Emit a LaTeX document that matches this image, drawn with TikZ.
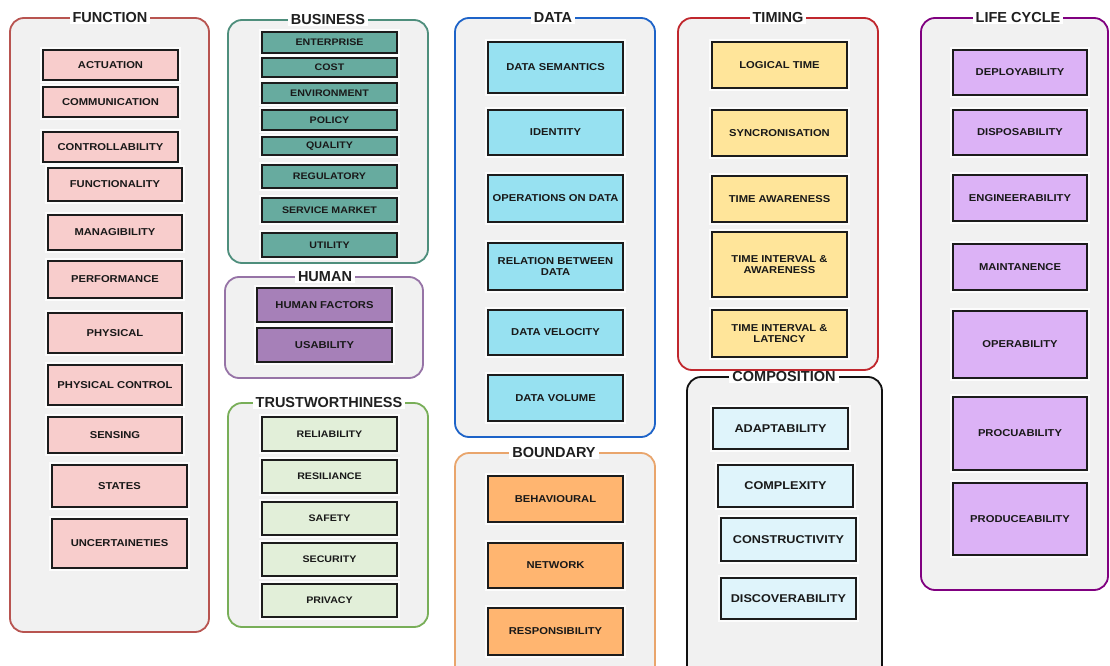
\documentclass[tikz,border=0pt]{standalone}
\usepackage{fontspec}
\setmainfont{Liberation Sans}
\newfontfamily\itemfont{Liberation Sans}[FakeStretch=1.12]
\definecolor{grpfill}{HTML}{F1F1F1}
\definecolor{itemline}{HTML}{1C1C1C}
\definecolor{fucol}{HTML}{F8CDCC}\definecolor{fuline}{HTML}{B85450}
\definecolor{bucol}{HTML}{67AB9F}\definecolor{buline}{HTML}{4E8E7C}
\definecolor{hucol}{HTML}{A680B8}\definecolor{huline}{HTML}{9673A6}
\definecolor{trcol}{HTML}{E2EFD9}\definecolor{trline}{HTML}{78AE58}
\definecolor{dacol}{HTML}{97E1F1}\definecolor{daline}{HTML}{1D63C8}
\definecolor{bocol}{HTML}{FFB570}\definecolor{boline}{HTML}{E9A56C}
\definecolor{ticol}{HTML}{FFE59A}\definecolor{tiline}{HTML}{C0272D}
\definecolor{cocol}{HTML}{DFF4FB}\definecolor{coline}{HTML}{111111}
\definecolor{licol}{HTML}{DCB2F6}\definecolor{liline}{HTML}{800080}
\newcommand\itm[7]{\node[item,#6,minimum width={(#4-#2)*1pt},minimum height={(#5-#3)*1pt}] (#1) at ({(#2+#4)/2},{(#3+#5)/2}) {#7};}
\newcommand\grp[8]{\draw[grpbox,draw=#6] (#2,#3) rectangle (#4,#5);
  \node[grptitle] (#1) at (#8,#3) {#7};}
\begin{document}
\begin{tikzpicture}[x=1pt,y=-1pt,
  grpbox/.style={fill=grpfill, line width=1.8pt, rounded corners=14pt},
  grptitle/.style={fill=white, inner xsep=3pt, inner ysep=1pt, font=\bfseries\fontsize{14.5}{16}\selectfont, text=black!88},
  item/.style={draw=itemline, line width=1.7pt, align=center, inner sep=1pt, text=black!90,
    font=\itemfont\bfseries\fontsize{10}{11.5}\selectfont,
    preaction={draw=white, line width=6pt, draw opacity=0.85}},
  fu/.style={fill=fucol}, bu/.style={fill=bucol, font=\itemfont\bfseries\fontsize{9.5}{11}\selectfont},
  hu/.style={fill=hucol}, tr/.style={fill=trcol, font=\itemfont\bfseries\fontsize{9.5}{11}\selectfont},
  da/.style={fill=dacol}, bo/.style={fill=bocol}, ti/.style={fill=ticol},
  co/.style={fill=cocol, font=\itemfont\bfseries\fontsize{11.3}{13}\selectfont}, li/.style={fill=licol}]
\useasboundingbox (0,0) rectangle (1110,666);
\clip (0,0) rectangle (1110,666);
\fill[white] (0,0) rectangle (1110,666);
% containers
\grp{gfu}{10}{18}{209}{632}{fuline}{FUNCTION}{110}
\grp{gbu}{228}{20}{428}{263}{buline}{BUSINESS}{328}
\grp{ghu}{225}{277}{423}{378}{huline}{HUMAN}{325}
\grp{gtr}{228}{403}{428}{627}{trline}{TRUSTWORTHINESS}{329}
\grp{gda}{455}{18}{655}{437}{daline}{DATA}{553}
\grp{gbo}{455}{453}{655}{690}{boline}{BOUNDARY}{554}
\grp{gti}{678}{18}{878}{370}{tiline}{TIMING}{778}
\grp{gco}{687}{377}{882}{690}{coline}{COMPOSITION}{784}
\grp{gli}{921}{18}{1108}{590}{liline}{LIFE CYCLE}{1018}
% function
\itm{act}{43}{50}{178}{80}{fu}{ACTUATION}
\itm{com}{43}{87}{178}{117}{fu}{COMMUNICATION}
\itm{con}{43}{132}{178}{162}{fu}{CONTROLLABILITY}
\itm{fun}{48}{168}{182}{201}{fu}{FUNCTIONALITY}
\itm{man}{48}{215}{182}{250}{fu}{MANAGIBILITY}
\itm{per}{48}{261}{182}{298}{fu}{PERFORMANCE}
\itm{phy}{48}{313}{182}{353}{fu}{PHYSICAL}
\itm{pco}{48}{365}{182}{405}{fu}{PHYSICAL CONTROL}
\itm{sen}{48}{417}{182}{453}{fu}{SENSING}
\itm{sta}{52}{465}{187}{507}{fu}{STATES}
\itm{unc}{52}{519}{187}{568}{fu}{UNCERTAINETIES}
% business
\itm{ent}{262}{32}{397}{53}{bu}{ENTERPRISE}
\itm{cos}{262}{58}{397}{77}{bu}{COST}
\itm{env}{262}{83}{397}{103}{bu}{ENVIRONMENT}
\itm{pol}{262}{110}{397}{130}{bu}{POLICY}
\itm{qua}{262}{137}{397}{155}{bu}{QUALITY}
\itm{reg}{262}{165}{397}{188}{bu}{REGULATORY}
\itm{ser}{262}{198}{397}{222}{bu}{SERVICE MARKET}
\itm{uti}{262}{233}{397}{257}{bu}{UTILITY}
% human
\itm{hf}{257}{288}{392}{322}{hu}{HUMAN FACTORS}
\itm{usa}{257}{328}{392}{362}{hu}{USABILITY}
% trustworthiness
\itm{rel}{262}{417}{397}{451}{tr}{RELIABILITY}
\itm{res}{262}{460}{397}{493}{tr}{RESILIANCE}
\itm{saf}{262}{502}{397}{535}{tr}{SAFETY}
\itm{sec}{262}{543}{397}{576}{tr}{SECURITY}
\itm{pri}{262}{584}{397}{617}{tr}{PRIVACY}
% data
\itm{dse}{488}{42}{623}{93}{da}{DATA SEMANTICS}
\itm{ide}{488}{110}{623}{155}{da}{IDENTITY}
\itm{ope}{488}{175}{623}{222}{da}{OPERATIONS ON DATA}
\itm{rbd}{488}{243}{623}{290}{da}{RELATION BETWEEN\\DATA}
\itm{dve}{488}{310}{623}{355}{da}{DATA VELOCITY}
\itm{dvo}{488}{375}{623}{421}{da}{DATA VOLUME}
% boundary
\itm{beh}{488}{476}{623}{522}{bo}{BEHAVIOURAL}
\itm{net}{488}{543}{623}{588}{bo}{NETWORK}
\itm{rsp}{488}{608}{623}{655}{bo}{RESPONSIBILITY}
% timing
\itm{log}{712}{42}{847}{88}{ti}{LOGICAL TIME}
\itm{syn}{712}{110}{847}{156}{ti}{SYNCRONISATION}
\itm{taw}{712}{176}{847}{222}{ti}{TIME AWARENESS}
\itm{tia}{712}{232}{847}{297}{ti}{TIME INTERVAL \&\\AWARENESS}
\itm{til}{712}{310}{847}{357}{ti}{TIME INTERVAL \&\\LATENCY}
% composition
\itm{ada}{713}{408}{848}{449}{co}{ADAPTABILITY}
\itm{cpx}{718}{465}{853}{507}{co}{COMPLEXITY}
\itm{cst}{721}{518}{856}{561}{co}{CONSTRUCTIVITY}
\itm{dis}{721}{578}{856}{619}{co}{DISCOVERABILITY}
% life cycle
\itm{dep}{953}{50}{1087}{95}{li}{DEPLOYABILITY}
\itm{dsp}{953}{110}{1087}{155}{li}{DISPOSABILITY}
\itm{eng}{953}{175}{1087}{221}{li}{ENGINEERABILITY}
\itm{mai}{953}{244}{1087}{290}{li}{MAINTANENCE}
\itm{opr}{953}{311}{1087}{378}{li}{OPERABILITY}
\itm{pro}{953}{397}{1087}{470}{li}{PROCUABILITY}
\itm{prd}{953}{483}{1087}{555}{li}{PRODUCEABILITY}
\end{tikzpicture}
\end{document}
